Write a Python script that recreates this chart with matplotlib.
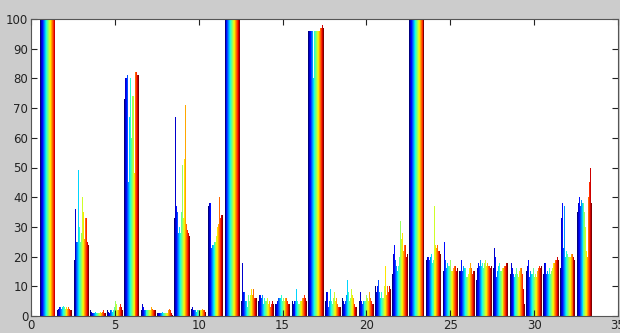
import numpy as np
import matplotlib
matplotlib.use('Agg')
import matplotlib.pyplot as plt

# 16 series per group, blue -> red (jet), one list per group position 1..33
g01 = [100] * 16
g02 = [2, 2.5, 3, 3, 2.5, 3, 3.5, 3, 2.5, 3, 3, 2.5, 3, 2.5, 2, 2]
g03 = [19, 36, 33, 25, 25, 49, 30, 25, 28, 40, 35, 26, 33, 33, 25, 24]
g04 = [2, 1.5, 1, 1, 1, 1.5, 1, 1, 1, 1, 1.5, 1, 1.5, 2, 1, 1]
g05 = [2, 1.5, 1, 2, 2, 1.5, 2, 3, 5, 4, 2, 2, 3, 4, 3, 2]
g06 = [73, 80, 80, 81, 45, 67, 80, 60, 74, 74, 48, 74, 82, 82, 81, 81]
g07 = [2, 4, 3, 2, 2, 3, 2, 2, 2, 2, 2, 3, 2.5, 2, 2, 2]
g08 = [1, 1, 1, 1, 1, 1.5, 1, 1, 1, 1, 1, 2, 2.5, 2, 1, 0.5]
g09 = [33, 67, 37, 35, 28, 30, 28, 35, 51, 33, 53, 71, 31, 29, 28, 27]
g10 = [2.5, 3, 2, 2, 2, 1.5, 2, 2, 2, 2, 2, 2.5, 2, 2, 1.5, 1.5]
g11 = [37, 38, 38, 23, 24, 24, 25, 30, 25, 27, 30, 31, 40, 33, 34, 34]
g12 = [100] * 16
g13 = [5, 18, 8, 8, 5, 5, 3, 7, 5, 7, 9, 7, 9, 6, 6, 6]
g14 = [5, 7, 7, 6, 7, 4, 6, 5, 5, 6, 4, 5, 3, 4, 5, 4]
g15 = [4, 4, 5, 6, 6, 6, 7, 5, 6, 5, 5, 6, 6, 5, 4, 4]
g16 = [5, 4, 5, 4, 5, 9, 5, 4, 4, 5, 5, 6, 6, 7, 6, 5]
g17 = [96, 96, 96, 96, 96, 80, 96, 96, 96, 96, 96, 96, 97, 97, 98, 97]
g18 = [5, 8, 8, 3, 5, 9, 5, 4, 6, 8, 5, 6, 4, 3, 3, 3]
g19 = [6, 5, 4, 5, 7, 12, 8, 5, 6, 9, 7, 6, 5, 4, 3, 3]
g20 = [5, 8, 5, 4, 5, 8, 5, 5, 7, 6, 5, 8, 6, 5, 4, 4]
g21 = [10, 8, 10, 12, 8, 6, 8, 6, 6, 10, 17, 7, 10, 8, 10, 9]
g22 = [14, 21, 24, 19, 17, 15, 17, 20, 32, 26, 28, 22, 24, 24, 20, 21]
g23 = [100] * 16
g24 = [19, 20, 20, 19, 20, 21, 18, 19, 19, 37, 24, 23, 24, 22, 22, 21]
g25 = [15, 17, 25, 19, 16, 18, 17, 17, 19, 15, 15, 16, 17, 17, 15, 16]
g26 = [15, 15, 19, 15, 17, 16, 16, 13, 13, 14, 16, 18, 16, 14, 15, 15]
g27 = [12, 16, 18, 17, 19, 17, 18, 16, 18, 19, 17, 18, 17, 17, 16, 17]
g28 = [16, 23, 20, 13, 15, 17, 18, 15, 15, 16, 13, 16, 17, 17, 18, 18]
g29 = [14, 18, 16, 14, 15, 13, 14, 16, 14, 13, 15, 16, 16, 14, 9, 4]
g30 = [15, 17, 19, 13, 15, 14, 14, 16, 13, 14, 13, 15, 16, 17, 16, 17]
g31 = [14, 18, 18, 14, 15, 14, 16, 14, 15, 16, 18, 18, 19, 19, 20, 19]
g32 = [16, 33, 38, 23, 37, 20, 22, 21, 20, 20, 20, 21, 21, 20, 20, 19]
g33 = [35, 38, 40, 37, 39, 38, 36, 38, 35, 30, 22, 20, 40, 45, 50, 38]

groups = [g01, g02, g03, g04, g05, g06, g07, g08, g09, g10, g11,
          g12, g13, g14, g15, g16, g17, g18, g19, g20, g21, g22,
          g23, g24, g25, g26, g27, g28, g29, g30, g31, g32, g33]

vals = np.array(groups, dtype=float)   # rows = groups, cols = series
ngrp, nser = vals.shape
x = np.arange(1, ngrp + 1)

fig = plt.figure(figsize=(6.2, 3.33), dpi=100)
fig.patch.set_facecolor('#cccccc')
ax = fig.add_axes([31 / 620, 1 - 316 / 333, 587 / 620, 297 / 333])
ax.set_facecolor('white')

gw = 0.92
w = gw / nser
cols = plt.cm.jet(np.linspace(0, 1, nser))
for i in range(nser):
    ax.bar(x + (i - (nser - 1) / 2) * w, vals[:, i], width=w,
           color=cols[i], edgecolor='none', linewidth=0)

ax.set_xlim(0, 35)
ax.set_ylim(0, 100)
ax.set_xticks(np.arange(0, 36, 5))
ax.set_yticks(np.arange(0, 101, 10))
ax.tick_params(direction='in', length=4, top=True, right=True,
               labelsize=8.5, colors='#222222', pad=2)
for s in ax.spines.values():
    s.set_color('#555555')
    s.set_linewidth(0.8)

fig.savefig('out.png', dpi=100, facecolor=fig.get_facecolor())
